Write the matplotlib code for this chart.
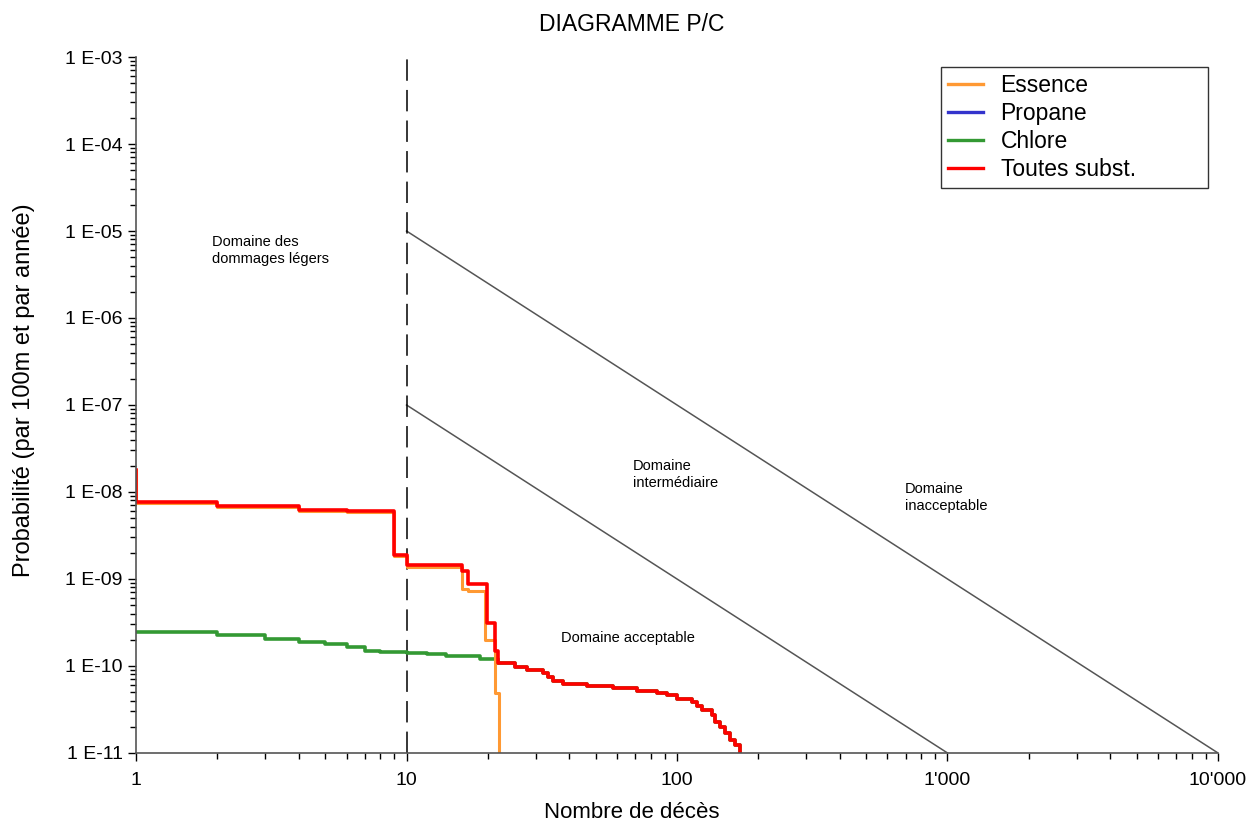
import numpy as np
import matplotlib
matplotlib.use("Agg")
import matplotlib.pyplot as plt
from matplotlib.ticker import FixedLocator, LogLocator, NullFormatter

plt.rcParams["font.family"] = ["Liberation Sans", "DejaVu Sans"]

# ── Data (step curves, steps-post) ──────────────────────────────────────────
tail_x = [21.8, 25.2, 27.9, 32, 33.3, 34.7, 37.9, 46.5, 58, 71, 84, 92, 100,
          114, 118.5, 124, 135, 138, 144, 150, 157, 164, 171, 171]
tail_y = [1.08e-10, 9.7e-11, 9.0e-11, 8.3e-11, 7.5e-11, 6.7e-11, 6.2e-11,
          5.9e-11, 5.6e-11, 5.2e-11, 4.9e-11, 4.65e-11, 4.2e-11, 3.85e-11,
          3.47e-11, 3.1e-11, 2.7e-11, 2.27e-11, 2.0e-11, 1.7e-11, 1.4e-11,
          1.23e-11, 1.07e-11, 1.0e-11]

toutes_x = [1, 1, 2, 4, 6, 9, 10, 16, 16.9, 19.9, 21.2] + tail_x
toutes_y = [1.8e-8, 7.7e-9, 6.9e-9, 6.2e-9, 6.0e-9, 1.9e-9, 1.45e-9, 1.25e-9,
            8.8e-10, 3.1e-10, 1.5e-10] + tail_y

essence_x = [1, 1, 2, 4, 6, 9, 10, 16, 16.9, 19.5, 21.2, 22, 22]
essence_y = [1.8e-8, 7.45e-9, 6.7e-9, 6.05e-9, 5.85e-9, 1.82e-9, 1.37e-9,
             7.6e-10, 7.2e-10, 2.0e-10, 4.9e-11, 1.0e-11, 1.0e-11]

chlore_x = [1, 2, 3, 4, 5, 6, 7, 8, 10, 11.9, 14, 18.7] + tail_x
chlore_y = [2.46e-10, 2.3e-10, 2.04e-10, 1.87e-10, 1.8e-10, 1.66e-10, 1.5e-10,
            1.45e-10, 1.42e-10, 1.37e-10, 1.3e-10, 1.2e-10] + tail_y

# limit lines (acceptable / inacceptable)
lim_hi_x = [10, 10000]
lim_hi_y = [1e-5, 1e-11]
lim_lo_x = [10, 1000]
lim_lo_y = [1e-7, 1e-11]

x_ticks = [1, 10, 100, 1000, 10000]
x_labels = ["1", "10", "100", "1'000", "10'000"]
y_ticks = [1e-11, 1e-10, 1e-9, 1e-8, 1e-7, 1e-6, 1e-5, 1e-4, 1e-3]
y_labels = ["1 E-11", "1 E-10", "1 E-09", "1 E-08", "1 E-07",
            "1 E-06", "1 E-05", "1 E-04", "1 E-03"]

# ── Figure ─────────────────────────────────────────────────────────────────
fig = plt.figure(figsize=(12.55, 8.25), dpi=100)
ax = fig.add_axes([0.1084, 0.0873, 0.8621, 0.8436])
ax.set_xscale("log")
ax.set_yscale("log")
ax.set_xlim(1, 10000)
ax.set_ylim(1e-11, 1e-3)

ax.plot(lim_hi_x, lim_hi_y, color="#555555", lw=1.1)
ax.plot(lim_lo_x, lim_lo_y, color="#555555", lw=1.1)
ax.plot([10, 10], [1e-11, 1e-3], color="black", lw=1.1, ls=(0, (14, 6)))

ax.plot(chlore_x, chlore_y, drawstyle="steps-post", color="#339933", lw=2.6)
ax.plot(essence_x, essence_y, drawstyle="steps-post", color="#FF9933", lw=2.2)
ax.plot(toutes_x, toutes_y, drawstyle="steps-post", color="#FF0000", lw=2.6)

# legend (Propane has no visible data)
h_ess, = ax.plot([], [], color="#FF9933", lw=2.4, label="Essence")
h_pro, = ax.plot([], [], color="#3333CC", lw=2.4, label="Propane")
h_chl, = ax.plot([], [], color="#339933", lw=2.4, label="Chlore")
h_tot, = ax.plot([], [], color="#FF0000", lw=2.4, label="Toutes subst.")
leg = ax.legend(handles=[h_ess, h_pro, h_chl, h_tot], loc="upper left",
                bbox_to_anchor=(0.744, 0.9856, 0.2468, 0.0), mode="expand",
                borderaxespad=0, fontsize=16.5, frameon=True, fancybox=False,
                edgecolor="black", handlelength=1.55, borderpad=0.3,
                labelspacing=0.22, handletextpad=0.75)
leg.get_frame().set_linewidth(1.0)

# region annotations
ax.text(1.91, 9.0e-6, "Domaine des\ndommages légers", fontsize=10.5,
        va="top", linespacing=1.3)
ax.text(68.8, 2.4e-8, "Domaine\nintermédiaire", fontsize=10.5,
        va="top", linespacing=1.3)
ax.text(696, 1.3e-8, "Domaine\ninacceptable", fontsize=10.5,
        va="top", linespacing=1.3)
ax.text(37.3, 2.1e-10, "Domaine acceptable", fontsize=10.5, va="center")

ax.xaxis.set_major_locator(FixedLocator(x_ticks))
ax.set_xticklabels(x_labels)
ax.xaxis.set_minor_locator(LogLocator(base=10, subs=np.arange(2, 10), numticks=20))
ax.xaxis.set_minor_formatter(NullFormatter())
ax.yaxis.set_major_locator(FixedLocator(y_ticks))
ax.set_yticklabels(y_labels)
ax.yaxis.set_minor_locator(LogLocator(base=10, subs=np.arange(2, 10), numticks=20))
ax.yaxis.set_minor_formatter(NullFormatter())

ax.tick_params(which="major", length=6, width=1, labelsize=14, direction="out")
ax.tick_params(which="minor", length=4, width=1, direction="out")
ax.tick_params(axis="x", pad=8)
for s in ["top", "right"]:
    ax.spines[s].set_visible(False)
for s in ["left", "bottom"]:
    ax.spines[s].set_color("#555555")
    ax.spines[s].set_linewidth(1.2)

fig.text(0.5036, 0.003, "Nombre de décès", ha="center", va="bottom",
         fontsize=16)
fig.text(0.019, 0.527, "Probabilité (par 100m et par année)", ha="center",
         va="center", rotation=90, fontsize=17)
fig.text(0.5036, 0.970, "DIAGRAMME P/C", ha="center", va="center",
         fontsize=16.5)

fig.savefig("out.png", dpi=100, facecolor="white")
